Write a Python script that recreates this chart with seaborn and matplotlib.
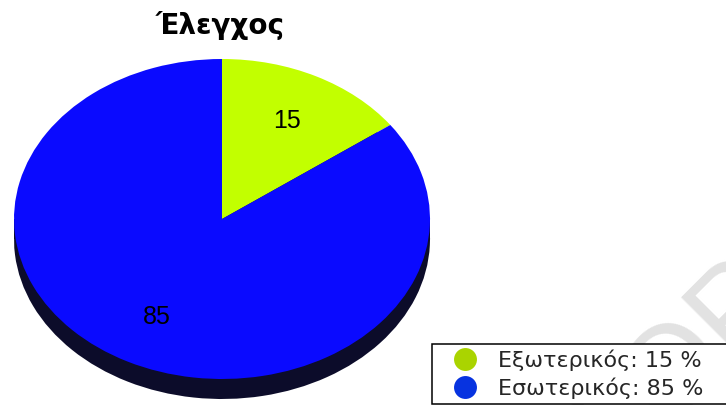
import matplotlib
matplotlib.use("Agg")
import matplotlib.pyplot as plt
from matplotlib.lines import Line2D
import seaborn as sns

# Data
title = "Έλεγχος"
categories = ["Εξωτερικός", "Εσωτερικός"]
values = [15, 85]

top_colors = ["#c2ff00", "#0a0aff"]
legend_colors = ["#aad400", "#0733e0"]
side_color = "#0c0c2a"

sns.set_theme(style="white")
plt.rcParams["font.family"] = ["Liberation Sans", "DejaVu Sans"]

fig = plt.figure(figsize=(7.26, 4.05), dpi=100)
fig.patch.set_facecolor("white")

# pie axes: x [-1, 1] -> 14..430 px, y [1, -1.125] -> 59..399 px
ax = fig.add_axes([14 / 726, 6 / 405, 416 / 726, 340 / 405])
depth = 0.125

# side of the "3d" disc
ax.fill_between([-1, 1], -depth, 0, color=side_color, linewidth=0)
ax.pie(values, colors=[side_color] * len(values), startangle=90, counterclock=False,
       center=(0, -depth), radius=1, wedgeprops=dict(linewidth=0))

# top surface
wedges, texts, autotexts = ax.pie(
    values, colors=top_colors, startangle=90, counterclock=False,
    center=(0, 0), radius=1, autopct=lambda p: f"{p:.0f}", pctdistance=0.69,
    wedgeprops=dict(linewidth=0), textprops=dict(fontsize=18, color="black"),
)
ax.set_aspect("auto")
ax.set_xlim(-1, 1)
ax.set_ylim(-1 - depth, 1)
ax.axis("off")

fig.text(220 / 726, (405 - 34) / 405, title, ha="center", va="baseline",
         fontsize=20, fontweight="bold", color="black", family="DejaVu Sans")

# faint watermark, mostly off the page
fig.text(603 / 726, (405 - 488) / 405, "COPY", rotation=45, rotation_mode="anchor",
         ha="left", va="baseline", fontsize=88, color="#e2e2e2", zorder=1)

# legend box runs past the right edge of the page, as in the original
handles = [Line2D([], [], linestyle="none", marker="o", markersize=16.5,
                  markerfacecolor=c, markeredgewidth=0) for c in legend_colors]
labels = [f"{c}: {v} %" for c, v in zip(categories, values)]
leg = fig.legend(handles, labels, loc="upper left", mode="expand",
                 bbox_to_anchor=(432 / 726, 0, 310 / 726, (405 - 344) / 405),
                 prop=dict(family="DejaVu Sans", size=16),
                 frameon=True, fancybox=False, framealpha=1,
                 borderpad=0.24, borderaxespad=0, handlelength=2.5,
                 handletextpad=0.23, labelspacing=0.3)
leg.get_frame().set_edgecolor("black")
leg.get_frame().set_linewidth(1.1)
leg.set_zorder(5)

fig.savefig("out.png", dpi=100)
